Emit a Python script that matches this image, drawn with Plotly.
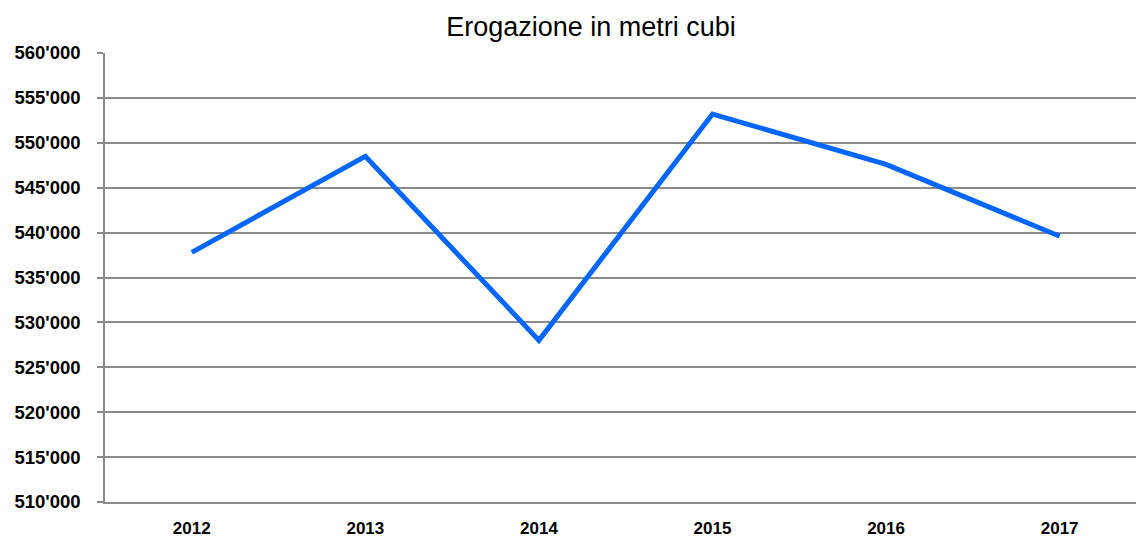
import plotly.graph_objects as go

years = ["2012", "2013", "2014", "2015", "2016", "2017"]
values = [537800, 548500, 528000, 553200, 547600, 539600]
y_ticks = list(range(510000, 560001, 5000))
y_tick_labels = [f"{v // 1000}'000" for v in y_ticks]

GRID = "#8a8a8a"
FONT = "Liberation Sans, Arial, sans-serif"

fig = go.Figure()
fig.add_trace(go.Scatter(
    x=years, y=values, mode="lines",
    line=dict(color="#0066FF", width=5),
    hoverinfo="x+y",
))

fig.update_layout(
    width=1136, height=538,
    margin=dict(l=105, r=0, t=53, b=36, autoexpand=False),
    paper_bgcolor="white", plot_bgcolor="white",
    showlegend=False,
    title=dict(
        text="Erogazione in metri cubi",
        x=591 / 1136, xanchor="center",
        y=1 - 27 / 538, yanchor="middle",
        font=dict(family=FONT, size=27, color="#000000"),
    ),
    font=dict(family=FONT, color="#000000"),
)

fig.update_xaxes(
    type="category",
    range=[-0.5, 5.44],
    automargin=False,
    showgrid=False,
    showline=True, linecolor=GRID, linewidth=1.5,
    ticks="",
    ticklabelstandoff=10,
    tickfont=dict(size=17, family=FONT, color="#000000", weight="bold"),
)

fig.update_yaxes(
    range=[510000, 560000],
    automargin=False,
    tickvals=y_ticks, ticktext=y_tick_labels,
    showgrid=True, gridcolor=GRID, gridwidth=1.5,
    showline=True, linecolor=GRID, linewidth=1.5,
    zeroline=False,
    ticks="outside", ticklen=6, tickcolor=GRID, tickwidth=1.5,
    ticklabelstandoff=13,
    tickfont=dict(size=18.5, family=FONT, color="#000000", weight="bold"),
)

fig.write_html(
    "out.html",
    config={"displayModeBar": False},
    post_script="document.body.style.margin='0';document.body.style.overflow='hidden';",
)
